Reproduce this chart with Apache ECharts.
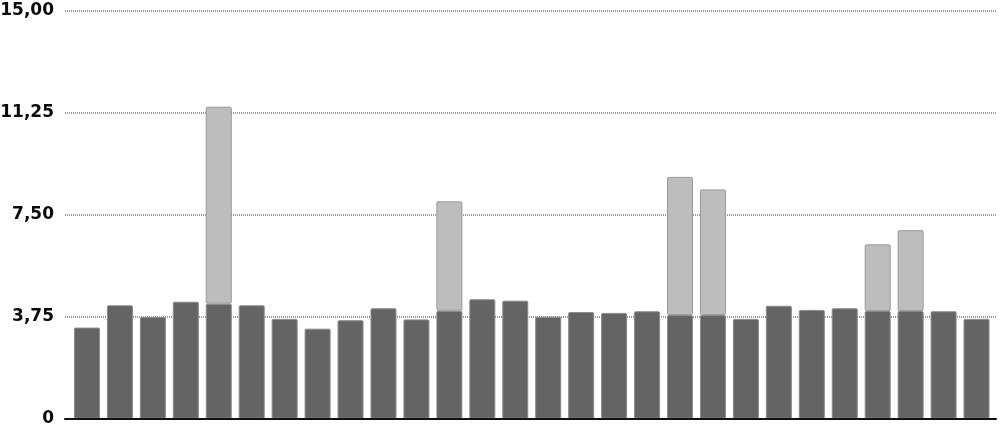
<!DOCTYPE html>
<html>
<head>
<meta charset="utf-8">
<script src="https://cdn.jsdelivr.net/npm/echarts@6/dist/echarts.min.js"></script>
<style>html,body{margin:0;padding:0;background:#fff}#c{width:1000px;height:429px}</style>
</head>
<body>
<div id="c"></div>
<script>
// Data
var categories = ['1','2','3','4','5','6','7','8','9','10','11','12','13','14','15','16','17','18','19','20','21','22','23','24','25','26','27','28'];
var baseValues = [3.35,4.17,3.74,4.30,4.23,4.17,3.67,3.31,3.62,4.06,3.65,3.97,4.39,4.34,3.75,3.92,3.89,3.95,3.81,3.81,3.67,4.15,4.00,4.06,3.96,3.96,3.95,3.67];
var extraValues = [0,0,0,0,7.24,0,0,0,0,0,0,4.02,0,0,0,0,0,0,5.08,4.62,0,0,0,0,2.45,2.97,0,0];
var yTicks = ['0','3,75','7,50','11,25','15,00'];

var chart = echarts.init(document.getElementById('c'), null, {renderer: 'canvas'});
chart.setOption({
  animation: false,
  backgroundColor: '#ffffff',
  grid: [
    {left: 65, right: 4, top: 10.7, bottom: 10.3, containLabel: false, outerBoundsMode: 'none'},
    {left: 70.5, right: 7, top: 10.7, bottom: 10.3, containLabel: false, outerBoundsMode: 'none'}
  ],
  xAxis: [
    {
      gridIndex: 0,
      type: 'value',
      min: 0,
      max: 1,
      axisLine: {show: true, onZero: false, lineStyle: {color: '#111', width: 2}},
      axisTick: {show: false},
      axisLabel: {show: false},
      splitLine: {show: false},
      z: 10
    },
    {
      gridIndex: 1,
      type: 'category',
      data: categories,
      axisLine: {show: false},
      axisTick: {show: false},
      axisLabel: {show: false},
      splitLine: {show: false}
    }
  ],
  yAxis: [
    {
      gridIndex: 0,
      type: 'value',
      min: 0,
      max: 15,
      interval: 3.75,
      axisLine: {show: false},
      axisTick: {show: false},
      axisLabel: {
        margin: 11,
        fontFamily: 'DejaVu Sans',
        fontWeight: 'bold',
        fontSize: 17,
        color: '#0a0a0a',
        formatter: function (v) { return yTicks[Math.round(v / 3.75)]; }
      },
      splitLine: {show: true, lineStyle: {color: '#9a9a9a', width: 2, type: [1, 1]}}
    },
    {
      gridIndex: 1,
      type: 'value',
      min: 0,
      max: 15,
      interval: 3.75,
      show: false,
      splitLine: {show: false}
    }
  ],
  series: [
    {
      type: 'bar',
      xAxisIndex: 1,
      yAxisIndex: 1,
      stack: 's',
      barWidth: 26,
      data: baseValues,
      itemStyle: {color: '#646464', borderColor: '#8a8a8a', borderWidth: 1, borderRadius: 1},
      z: 3
    },
    {
      type: 'bar',
      xAxisIndex: 1,
      yAxisIndex: 1,
      stack: 's',
      barWidth: 26,
      data: extraValues.map(function (v) { return v ? v : null; }),
      itemStyle: {color: '#bdbdbd', borderColor: '#999999', borderWidth: 1, borderRadius: 1},
      z: 3
    }
  ]
});
</script>
</body>
</html>
